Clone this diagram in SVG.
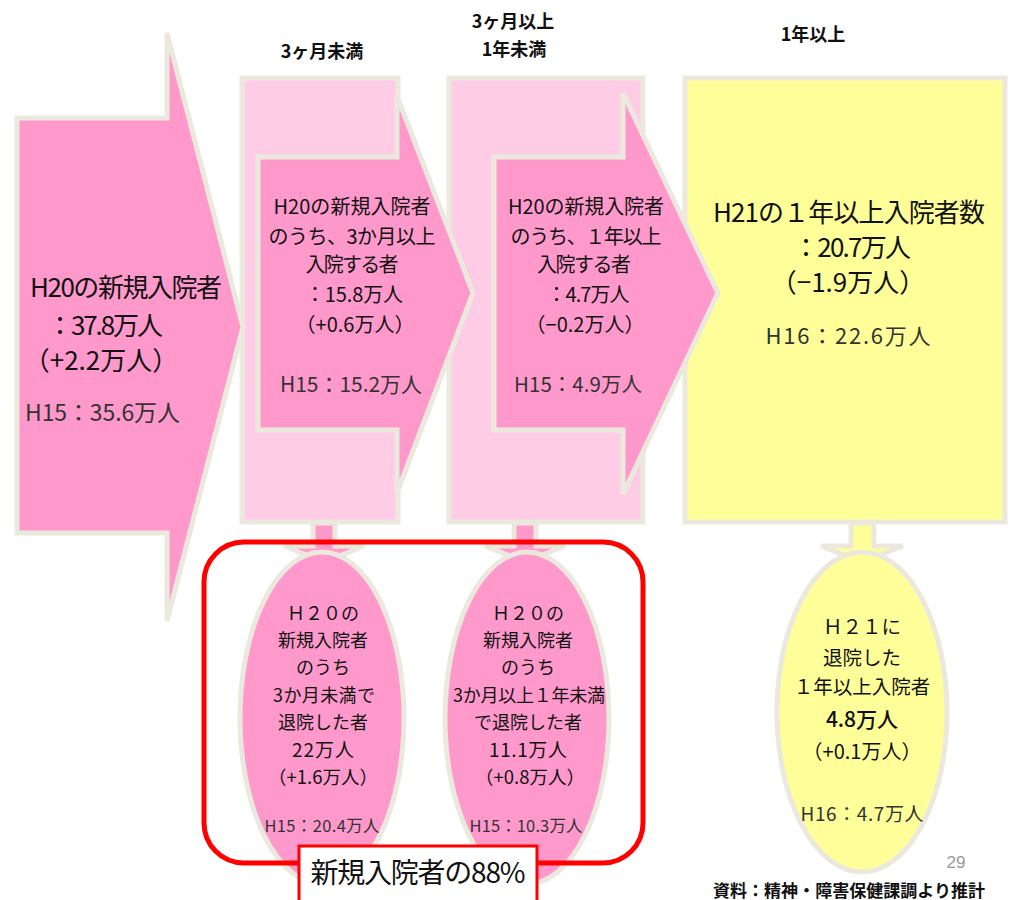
<svg xmlns="http://www.w3.org/2000/svg" width="1013" height="900" viewBox="0 0 1013 900">
<style>
.t{font-family:"Noto Sans CJK JP","Noto Sans",sans-serif;fill:#111;}
.m{text-anchor:middle;}
.h{font-weight:bold;font-size:18px;}
.sub{fill:#333;}
.bd{stroke:#ebe9dd;stroke-width:5;stroke-linejoin:miter;}
.pk{fill:#ff99cc;}
.lp{fill:#ffcce6;}
.yl{fill:#ffff99;}
</style>
<rect width="1013" height="900" fill="#ffffff"/>
<g id="headers">
<text class="t m h" x="322" y="58">3ヶ月未満</text>
<text class="t m h" x="513" y="28">3ヶ月以上</text>
<text class="t m h" x="514" y="56">1年未満</text>
<text class="t m h" x="813" y="41">1年以上</text>
</g>
<g id="connectors">
<polygon class="pk bd" stroke-width="4" points="313,523 335,523 335,546 364,546 324,562 284,546 313,546"/>
<polygon class="pk bd" stroke-width="4" points="514,523 536,523 536,546 565,546 525,562 485,546 514,546"/>
<polygon class="yl bd" stroke-width="4" points="851,523 874,523 874,546 903,546 862,562 821,546 851,546"/>
</g>
<g id="node-1year">
<rect class="yl bd" x="685" y="78" width="320" height="444"/>
<text class="t m" x="849" y="222" font-size="26" textLength="272">H21の１年以上入院者数</text>
<text class="t m" x="852" y="257" font-size="26" textLength="118">：20.7万人</text>
<text class="t m" x="848" y="292" font-size="26">（−1.9万人）</text>
<text class="t m sub" x="848" y="344" font-size="22" textLength="165">H16：22.6万人</text>
</g>
<g id="node-3m-1y">
<rect class="lp bd" x="449" y="78" width="194" height="444"/>
<polygon class="pk bd" points="494,157 623,157 623,93 718,293 623,494 623,430 494,430"/>
<text class="t m" x="586" y="214" font-size="20" textLength="156">H20の新規入院者</text>
<text class="t m" x="586" y="244" font-size="20" textLength="151">のうち、１年以上</text>
<text class="t m" x="584" y="272" font-size="20" textLength="94">入院する者</text>
<text class="t m" x="588" y="302" font-size="20" textLength="83">：4.7万人</text>
<text class="t m" x="585" y="332" font-size="20">（−0.2万人）</text>
<text class="t sub" x="514" y="392" font-size="20.5" textLength="128">H15：4.9万人</text>
</g>
<g id="node-under3m">
<rect class="lp bd" x="242" y="78" width="156" height="444"/>
<polygon class="pk bd" points="258,157 397,157 397,96 473,293 397,493 397,430 258,430"/>
<text class="t m" x="352" y="214" font-size="20" textLength="157">H20の新規入院者</text>
<text class="t m" x="352" y="244" font-size="20" textLength="167">のうち、3か月以上</text>
<text class="t m" x="352" y="272" font-size="20" textLength="93">入院する者</text>
<text class="t m" x="354" y="302" font-size="20" textLength="98">：15.8万人</text>
<text class="t m" x="355" y="332" font-size="20">（+0.6万人）</text>
<text class="t sub" x="280" y="392" font-size="21" textLength="142">H15：15.2万人</text>
</g>
<g id="node-new">
<polygon class="pk bd" points="17,118 167,118 167,33 243,327 167,621 167,533 17,533"/>
<text class="t" x="30" y="297" font-size="26" textLength="192">H20の新規入院者</text>
<text class="t" x="47" y="335" font-size="26" textLength="116">：37.8万人</text>
<text class="t m" x="101" y="370" font-size="26">（+2.2万人）</text>
<text class="t sub" x="25" y="421" font-size="23" textLength="155">H15：35.6万人</text>
</g>
<g id="node-discharge-under3m">
<ellipse class="pk bd" cx="322" cy="718" rx="82" ry="166"/>
<text class="t m" x="323" y="620" font-size="18">Ｈ２０の</text>
<text class="t m" x="323" y="647" font-size="18">新規入院者</text>
<text class="t m" x="323" y="674" font-size="18">のうち</text>
<text class="t m" x="324" y="702" font-size="18" textLength="102">3か月未満で</text>
<text class="t m" x="323" y="729" font-size="18">退院した者</text>
<text class="t m" x="323" y="757" font-size="19" textLength="62">22万人</text>
<text class="t m" x="323" y="784" font-size="18.5">（+1.6万人）</text>
<text class="t m sub" x="322" y="832" font-size="16.5" textLength="115">H15：20.4万人</text>
</g>
<g id="node-discharge-3m-1y">
<ellipse class="pk bd" cx="527" cy="718" rx="82" ry="166"/>
<text class="t m" x="528" y="620" font-size="18">Ｈ２０の</text>
<text class="t m" x="528" y="647" font-size="18">新規入院者</text>
<text class="t m" x="528" y="674" font-size="18">のうち</text>
<text class="t m" x="529" y="702" font-size="18" textLength="152">3か月以上１年未満</text>
<text class="t m" x="528" y="729" font-size="18">で退院した者</text>
<text class="t m" x="528" y="757" font-size="19" textLength="78">11.1万人</text>
<text class="t m" x="530" y="784" font-size="18.5">（+0.8万人）</text>
<text class="t m sub" x="526" y="832" font-size="16.5" textLength="113">H15：10.3万人</text>
</g>
<g id="node-discharge-1y">
<ellipse class="yl bd" cx="862" cy="712" rx="85" ry="160"/>
<text class="t m" x="862" y="634" font-size="19.5">Ｈ２１に</text>
<text class="t m" x="862" y="665" font-size="19.5">退院した</text>
<text class="t m" x="862" y="694" font-size="19.5">１年以上入院者</text>
<text class="t m" x="862" y="727" font-size="21" font-weight="500">4.8万人</text>
<text class="t m" x="862" y="759" font-size="20">（+0.1万人）</text>
<text class="t m sub" x="862" y="821" font-size="19" textLength="123">H16：4.7万人</text>
</g>
<g id="group-frame">
<rect x="204" y="542" width="439" height="321" rx="40" fill="none" stroke="#ff0000" stroke-width="5"/>
</g>
<g id="label-88">
<rect x="299" y="846" width="238" height="58" fill="#ffffff" stroke="#ff0000" stroke-width="3"/>
<text class="t m" x="418" y="883" font-size="28" textLength="215">新規入院者の88%</text>
</g>
<g id="footer">
<text x="956" y="868" font-family="Liberation Sans Narrow,Liberation Sans,sans-serif" font-size="17" fill="#999" text-anchor="middle">29</text>
<text class="t" x="713" y="897" font-size="17" font-weight="bold" textLength="272">資料：精神・障害保健課調より推計</text>
</g>
</svg>
